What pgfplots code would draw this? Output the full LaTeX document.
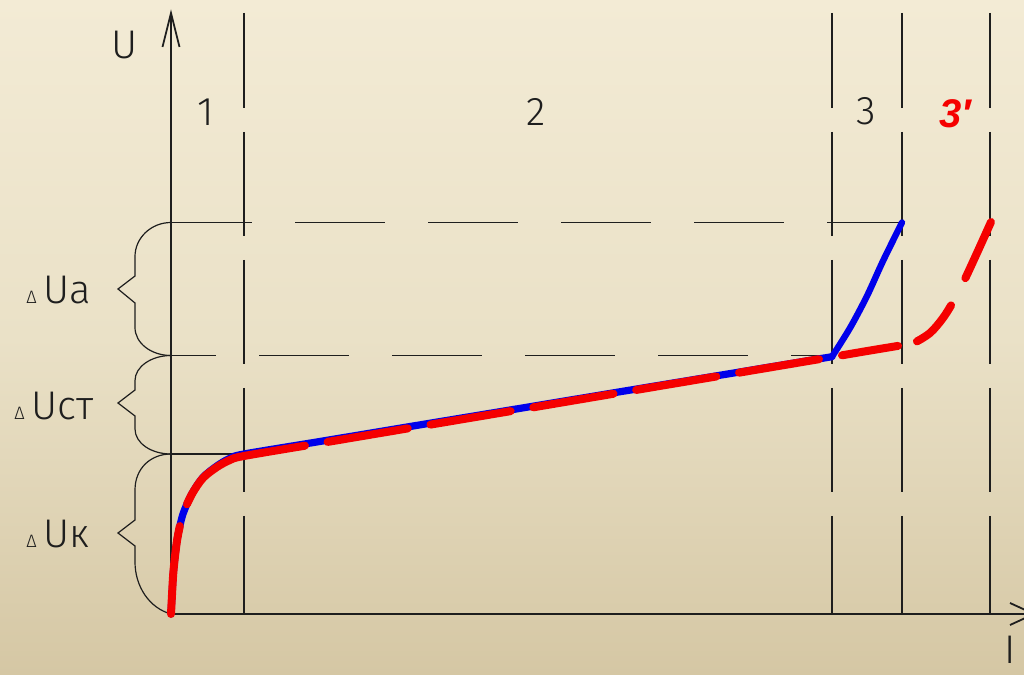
\documentclass[border=0pt]{standalone}
\usepackage{pgfplots}
\pgfplotsset{compat=1.18}
\usepackage{fontspec}
\newfontfamily\cad{Fira Sans Light}
\newfontfamily\boldsans{Liberation Sans}
\definecolor{bgtop}{RGB}{243,235,213}
\definecolor{bgmid}{RGB}{234,225,199}
\definecolor{bgbot}{RGB}{213,199,164}
\definecolor{curvered}{RGB}{245,0,0}
\definecolor{curveblue}{RGB}{0,0,235}
\definecolor{ink}{RGB}{30,30,30}

\begin{document}
\begin{tikzpicture}
\useasboundingbox (0,0) rectangle (512pt,337.5pt);
\shade[top color=bgtop, bottom color=bgbot, middle color=bgmid] (0,0) rectangle (512pt,337.5pt);
\begin{axis}[
  at={(0,0)}, anchor=south west,
  scale only axis, width=512pt, height=337.5pt,
  xmin=-171, xmax=853, ymin=-61, ymax=614,
  axis lines=none,
  clip=true,
]
% region boundaries (long dashes)
\foreach \xv in {73,661,731,819}{
  \edef\temp{\noexpand\draw[ink, line width=0.8pt, dash pattern=on 52pt off 12pt, dash phase=4.5pt]
    (axis cs:\xv,601) -- (axis cs:\xv,0);}
  \temp
}
% voltage levels
\draw[ink, line width=0.8pt, dash pattern=on 45pt off 21.5pt, dash phase=4.5pt] (axis cs:0,391.5) -- (axis cs:731,391.5);
\draw[ink, line width=0.8pt, dash pattern=on 45pt off 21.5pt, dash phase=22.5pt] (axis cs:0,258.5) -- (axis cs:661,258.5);
\draw[ink, line width=0.8pt] (axis cs:0,160) -- (axis cs:73,160);

% axes with open arrow heads
\draw[ink, line width=0.9pt] (axis cs:0,0) -- (axis cs:0,601);
\draw[ink, line width=0.9pt] (axis cs:-8.5,567) -- (axis cs:0,601) -- (axis cs:8.5,567);
\draw[ink, line width=0.9pt] (axis cs:0,0) -- (axis cs:863,0);
\draw[ink, line width=0.9pt] (axis cs:839,11) -- (axis cs:863,0) -- (axis cs:839,-11);

% braces
\draw[ink, line width=0.6pt] (axis cs:0,391.5) .. controls (axis cs:-20,391.5) and (axis cs:-36,376) .. (axis cs:-36,357.5)
  -- (axis cs:-36,338) -- (axis cs:-53,325) -- (axis cs:-36,311) -- (axis cs:-36,286.5)
  .. controls (axis cs:-36,271) and (axis cs:-20,258.5) .. (axis cs:0,258.5);
\draw[ink, line width=0.6pt] (axis cs:0,258.5) .. controls (axis cs:-20,258.5) and (axis cs:-36,247) .. (axis cs:-36,233.5)
  -- (axis cs:-36,224) -- (axis cs:-53,211) -- (axis cs:-36,198) -- (axis cs:-36,185)
  .. controls (axis cs:-36,171) and (axis cs:-20,160) .. (axis cs:0,160);
\draw[ink, line width=0.6pt] (axis cs:0,160) .. controls (axis cs:-20,160) and (axis cs:-36,146) .. (axis cs:-36,124)
  -- (axis cs:-36,94) -- (axis cs:-53,81) -- (axis cs:-36,68) -- (axis cs:-36,52)
  .. controls (axis cs:-36,28) and (axis cs:-22,6) .. (axis cs:0,0);

% characteristic without current-limiting (blue)
\addplot[curveblue, line width=3.6pt, line cap=round, line join=round, smooth, tension=0.5] coordinates {
  (0,0) (1,19) (2.3,41) (4.5,62) (7,79) (12,100) (21,120.5) (32,136.8) (46,148.2) (59,155.8) (73,160)
  (150,172.7) (250,189.3) (350,205.8) (450,222.4) (550,238.9) (661,257.3)};
\addplot[curveblue, line width=3.2pt, line cap=round, line join=round, smooth, tension=0.5] coordinates {
  (661,257.3) (679,286) (696,318) (712,353) (731,391.5)};

% characteristic 3' (red, dashed)
\addplot[curvered, line width=4pt, line cap=round, line join=round, smooth, tension=0.5,
  dash pattern=on 44.25pt off 11.5pt on 69.95pt off 11.5pt on 40.65pt off 11.5pt on 40.65pt off 11.5pt on 40.65pt off 11.5pt on 40.65pt off 11.5pt on 100pt off 10pt] coordinates {
  (0,0) (1,19) (2.3,41) (4.5,62) (7,79) (12,100) (21,120) (32,136) (46,147) (59,154) (73,158)
  (150,170.97) (250,187.8) (350,204.6) (450,221.5) (550,238.3) (648,254.8)};
\addplot[curvered, line width=4pt, line cap=round, line join=round, smooth, tension=0.5,
  dash pattern=on 28.4pt off 9.8pt on 25.2pt off 15.4pt on 60pt off 10pt] coordinates {
  (671,258.7) (701,263.8) (727,268.1) (742,270.8) (759,281) (772,296) (782,312) (793,333) (806,361) (820,392)};

% labels
\node[anchor=base, inner sep=0, text=ink, font=\cad\fontsize{20}{24}\selectfont] at (axis cs:-46.5,555) {U};
\node[anchor=base, inner sep=0, text=ink, font=\cad\fontsize{20}{24}\selectfont] at (axis cs:839,-50) {I};
\node[anchor=base, inner sep=0, text=ink, font=\cad\fontsize{20}{24}\selectfont] at (axis cs:35,488) {1};
\node[anchor=base, inner sep=0, text=ink, font=\cad\fontsize{20}{24}\selectfont] at (axis cs:365,488) {2};
\node[anchor=base, inner sep=0, text=ink, font=\cad\fontsize{20}{24}\selectfont] at (axis cs:695,489) {3};
\node[anchor=base west, inner sep=0, text=curvered, font=\boldsans\bfseries\itshape\fontsize{20}{24}\selectfont] at (axis cs:768,486) {3′};
\node[anchor=base west, inner sep=0, text=ink, font=\cad\fontsize{20}{24}\selectfont] at (axis cs:-145,310) {{\fontsize{9}{10}\selectfont Δ}\,Uа};
\node[anchor=base west, inner sep=0, text=ink, font=\cad\fontsize{20}{24}\selectfont] at (axis cs:-157,194) {{\fontsize{9}{10}\selectfont Δ}\,Uст};
\node[anchor=base west, inner sep=0, text=ink, font=\cad\fontsize{20}{24}\selectfont] at (axis cs:-145,66) {{\fontsize{9}{10}\selectfont Δ}\,Uк};
\end{axis}
\end{tikzpicture}
\end{document}
